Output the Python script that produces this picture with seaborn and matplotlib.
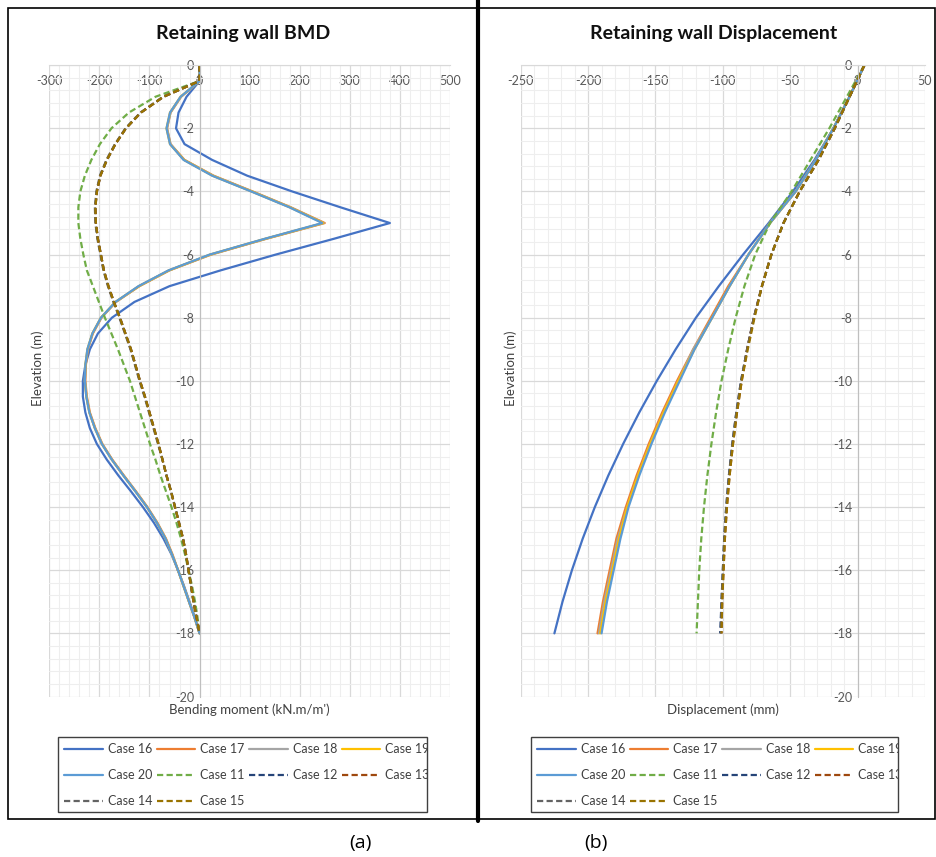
import matplotlib
matplotlib.use("Agg")
import matplotlib.pyplot as plt
from matplotlib.patches import Rectangle
from matplotlib.lines import Line2D
from matplotlib.transforms import Bbox, TransformedBbox
from matplotlib.ticker import MultipleLocator
import pandas as pd
import seaborn as sns

elev_bmd = [0, -0.5, -1, -1.5, -2, -2.5, -3, -3.5, -4, -4.5, -5, -5.5, -6, -6.5, -7, -7.5,
            -8, -8.5, -9, -9.5, -10, -10.5, -11, -11.5, -12, -12.5, -13, -13.5, -14, -14.5,
            -15, -15.5, -16, -16.5, -17, -17.5, -18]
elev_disp = [0, -1, -2, -3, -4, -5, -6, -7, -8, -9, -10, -11, -12, -13, -14, -15, -16, -17, -18]

# Bending moment (kN.m/m')
bmd_case16 = [0, 0, -26, -42, -47, -30, 25, 95, 185, 281, 380, 268, 152, 42, -60, -130,
              -175, -203, -219, -228, -233, -233, -228, -219, -205, -185, -162, -137, -113, -91,
              -72, -56, -43, -31, -20, -9, 0]
bmd_case17 = [0, 0, -37, -58, -65, -58, -30, 28, 106, 182, 250, 133, 23, -60, -120, -167,
              -196, -213, -223, -227, -228, -225, -219, -208, -194, -174, -151, -127, -104, -84,
              -67, -54, -43, -32, -21, -10, 0]
bmd_case18 = [0, 0, -37, -58, -65, -58, -31, 27, 105, 181, 248, 132, 22, -61, -121, -167,
              -196, -214, -223, -228, -229, -226, -220, -209, -195, -175, -152, -128, -105, -85,
              -68, -55, -43, -32, -21, -10, 0]
bmd_case19 = [0, 0, -38, -59, -66, -59, -31, 26, 104, 180, 247, 131, 21, -61, -121, -168,
              -197, -214, -224, -228, -229, -226, -220, -209, -195, -175, -152, -128, -105, -85,
              -68, -55, -43, -32, -21, -10, 0]
bmd_case20 = [0, 0, -38, -59, -66, -59, -32, 25, 103, 179, 245, 130, 20, -62, -122, -168,
              -197, -214, -224, -228, -229, -226, -220, -209, -195, -175, -152, -128, -105, -85,
              -68, -55, -43, -32, -21, -10, 0]
bmd_case11 = [0, 0, -88, -141, -176, -199, -216, -229, -238, -242, -242, -238, -232, -225,
              -213, -201, -189, -176, -163, -151, -139, -129, -119, -109, -99, -88, -78, -67,
              -56, -46, -37, -29, -22, -15, -9, -4, 0]
bmd_case12 = [0, 0, -72, -117, -147, -168, -185, -198, -205, -208, -207, -203, -197, -191,
              -182, -171, -159, -148, -137, -128, -119, -109, -100, -91, -82, -74, -66, -57,
              -49, -41, -33, -27, -22, -17, -12, -6, 0]
bmd_case13 = [0, 0, -72, -117, -147, -168, -185, -198, -205, -208, -207, -203, -197, -191,
              -182, -171, -159, -148, -137, -128, -119, -109, -100, -91, -82, -74, -66, -57,
              -49, -41, -33, -27, -22, -17, -12, -6, 0]
bmd_case14 = [0, 0, -73, -118, -148, -169, -186, -199, -206, -209, -208, -204, -198, -192,
              -183, -172, -160, -149, -138, -129, -120, -110, -101, -92, -83, -74, -66, -57,
              -49, -41, -33, -27, -22, -17, -12, -6, 0]
bmd_case15 = [0, 0, -72, -117, -147, -168, -185, -198, -205, -208, -207, -203, -197, -191,
              -182, -171, -159, -148, -137, -128, -119, -109, -100, -91, -82, -74, -66, -57,
              -49, -41, -33, -27, -22, -17, -12, -6, 0]

# Displacement (mm)
disp_case16 = [5, -6, -18, -32, -48, -66, -85, -103, -120, -135, -149, -162, -174, -185,
               -195, -204, -212, -219, -225]
disp_case17 = [5, -6, -18, -31, -46, -65, -81, -96, -109, -122, -134, -145, -155, -164,
               -172, -179, -184, -189, -193]
disp_case18 = [5, -6, -18, -31, -46, -65, -81, -95, -108, -122, -133, -144, -154, -163,
               -171, -178, -183, -188, -192]
disp_case19 = [5, -6, -18, -31, -46, -65, -81, -95, -108, -121, -133, -144, -154, -163,
               -171, -177, -182, -187, -191]
disp_case20 = [5, -6, -18, -31, -46, -65, -81, -95, -108, -121, -132, -143, -153, -162,
               -170, -176, -181, -186, -190]
disp_case11 = [5, -8, -21, -35, -49, -65, -76, -84, -90.5, -96, -101, -105, -108.5, -111.5,
               -114, -116, -117.5, -118.5, -119.5]
disp_case12 = [5, -6, -17, -29, -43, -55, -64, -71, -77, -82, -86.5, -90, -93, -95.5,
               -97.5, -99, -100, -101, -102]
disp_case13 = [5, -6, -17, -29, -43, -55, -64, -71, -77, -82, -86, -89.5, -92.5, -95,
               -97, -98.5, -99.5, -100.5, -101]
disp_case14 = [5, -6, -17, -29, -43, -55, -64, -71, -77, -82, -86.5, -90, -93, -95.5,
               -97.5, -99, -100, -101, -101.5]
disp_case15 = [5, -6, -17, -29, -43, -55, -64, -71, -76.5, -81.5, -86, -89.5, -92.5, -95,
               -97, -98.5, -99.5, -100.5, -101]

cases = ["Case 16", "Case 17", "Case 18", "Case 19", "Case 20",
         "Case 11", "Case 12", "Case 13", "Case 14", "Case 15"]
bmd_values = [bmd_case16, bmd_case17, bmd_case18, bmd_case19, bmd_case20,
              bmd_case11, bmd_case12, bmd_case13, bmd_case14, bmd_case15]
disp_values = [disp_case16, disp_case17, disp_case18, disp_case19, disp_case20,
               disp_case11, disp_case12, disp_case13, disp_case14, disp_case15]
colors = ["#4472C4", "#ED7D31", "#A5A5A5", "#FFC000", "#5B9BD5",
          "#70AD47", "#264478", "#9E480E", "#636363", "#997300"]
dash = (2.8, 1.5)
styles = ["", "", "", "", "", dash, dash, dash, dash, dash]

palette = dict(zip(cases, colors))
dashes = dict(zip(cases, styles))

# long-form tables for seaborn
df_bmd = pd.concat([pd.DataFrame({"case": c, "x": v, "z": elev_bmd})
                    for c, v in zip(cases, bmd_values)], ignore_index=True)
df_disp = pd.concat([pd.DataFrame({"case": c, "x": v, "z": elev_disp})
                     for c, v in zip(cases, disp_values)], ignore_index=True)

sns.set_style("white")
plt.rcParams['font.family'] = ['Lato', 'DejaVu Sans']
plt.rcParams['axes.unicode_minus'] = False

W, H = 937, 857
fig = plt.figure(figsize=(W / 100, H / 100), dpi=100)


def fx(px):
    return px / W


def fy(py):
    return 1 - py / H


ax1 = fig.add_axes([fx(49.3), fy(696.5), fx(400.7), 631.3 / H])
ax2 = fig.add_axes([fx(520.7), fy(696.5), fx(404.3), 631.3 / H])


def draw_panel(ax, df, xlim, xmaj, xmin, xlabel):
    sns.lineplot(data=df, x="x", y="z", hue="case", style="case", hue_order=cases,
                 style_order=cases, palette=palette, dashes=dashes, sort=False,
                 estimator=None, legend=False, linewidth=1.6, ax=ax)
    ax.set_xlim(*xlim)
    ax.set_ylim(-20, 0)
    ax.xaxis.set_major_locator(MultipleLocator(xmaj))
    ax.xaxis.set_minor_locator(MultipleLocator(xmin))
    ax.yaxis.set_major_locator(MultipleLocator(2))
    ax.yaxis.set_minor_locator(MultipleLocator(0.4))
    ax.grid(which='major', color='#D9D9D9', linewidth=0.9)
    ax.grid(which='minor', color='#EEEEEE', linewidth=0.8)
    ax.set_axisbelow(True)
    ax.spines['top'].set_visible(False)
    ax.spines['right'].set_visible(False)
    ax.spines['bottom'].set_position(('data', 0))
    ax.spines['left'].set_position(('data', 0))
    ax.spines['bottom'].set_color('#D9D9D9')
    ax.spines['left'].set_color('#BFBFBF')
    ax.tick_params(which='both', length=0, labelsize=9, colors='#595959')
    ax.tick_params(axis='x', pad=7)
    ax.tick_params(axis='y', pad=4)
    ax.set_xlabel(xlabel, fontsize=9.5, color='#404040')
    ax.xaxis.set_label_coords(0.5, -0.011)
    ax.set_ylabel("Elevation (m)", fontsize=9.5, color='#404040')


draw_panel(ax1, df_bmd, (-300, 500), 100, 20, "Bending moment (kN.m/m')")
ax1.yaxis.set_label_coords(-0.014, 0.52)
draw_panel(ax2, df_disp, (-250, 50), 50, 10, "Displacement (mm)")
ax2.yaxis.set_label_coords(-0.01, 0.52)

# titles
fig.text(fx(243), fy(33), "Retaining wall BMD", ha='center', va='center',
         fontsize=14, fontweight='bold', color='#111111')
fig.text(fx(714), fy(33), "Retaining wall Displacement", ha='center', va='center',
         fontsize=14, fontweight='bold', color='#111111')

# panel frames and divider
fig.add_artist(Rectangle((fx(8), fy(819)), fx(469), 811 / H, transform=fig.transFigure,
                         fill=False, edgecolor='black', linewidth=1.2))
fig.add_artist(Rectangle((fx(479), fy(819)), fx(456), 811 / H, transform=fig.transFigure,
                         fill=False, edgecolor='black', linewidth=1.2))
fig.add_artist(Line2D([fx(478), fx(478)], [fy(0), fy(821)], transform=fig.transFigure,
                      color='black', linewidth=3))

# legends (row-major order like the original)
order = [0, 4, 8, 1, 5, 9, 2, 6, 3, 7]
handles = [Line2D([], [], color=colors[i], linewidth=1.6,
                  linestyle='-' if styles[i] == "" else (0, dash)) for i in range(len(cases))]


def add_legend(box_x0, box_x1, hx):
    box = Rectangle((fx(box_x0), fy(812)), fx(box_x1 - box_x0), 75 / H,
                    transform=fig.transFigure, fill=False, edgecolor='#404040', linewidth=1.0)
    fig.add_artist(box)
    leg = fig.legend([handles[i] for i in order], [cases[i] for i in order], ncol=4,
                     loc='upper left', bbox_to_anchor=(fx(hx), fy(743)), frameon=False,
                     fontsize=9, handlelength=3.1, handletextpad=0.4, columnspacing=0.35,
                     labelspacing=1.12, borderpad=0, borderaxespad=0)
    for t in leg.get_texts():
        t.set_color('#404040')
        t.set_clip_box(TransformedBbox(Bbox([[fx(box_x0), fy(812)], [fx(box_x1), fy(737)]]),
                                       fig.transFigure))


add_legend(58, 427, 64)
add_legend(531, 898, 537)

fig.text(fx(360), fy(843), "(a)", ha='center', va='center', fontsize=14,
         family=['Open Sans', 'DejaVu Sans'], color='black')
fig.text(fx(596), fy(843), "(b)", ha='center', va='center', fontsize=14,
         family=['Open Sans', 'DejaVu Sans'], color='black')

fig.savefig("out.png", dpi=100)
